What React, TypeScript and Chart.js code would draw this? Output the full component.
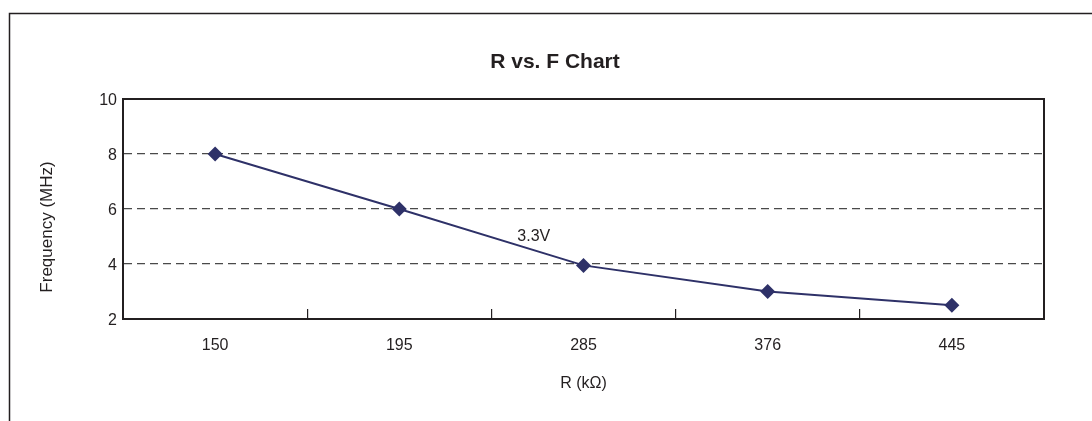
import React, { useEffect, useRef } from "react";
import { Chart, registerables } from "chart.js";

Chart.register(...registerables);

const categories = ["150", "195", "285", "376", "445"];
const frequencyValues = [8.0, 6.0, 3.95, 3.0, 2.5];
const yMin = 2;
const yMax = 10;
const yStep = 2;
const chartTitle = "R vs. F Chart";
const xTitle = "R (kΩ)";
const yTitle = "Frequency (MHz)";
const seriesLabel = "3.3V";
const seriesLabelIndex = 1.73;
const seriesLabelValue = 5.0;

const FONT = "'Liberation Sans', Arial, Helvetica, sans-serif";
const TEXT = "#231F20";
const LINE = "#2E3168";

const decorPlugin = {
  id: "decor",
  beforeDraw(chart: any) {
    const ctx = chart.ctx;
    ctx.save();
    ctx.fillStyle = "#ffffff";
    ctx.fillRect(0, 0, chart.width, chart.height);
    ctx.strokeStyle = TEXT;
    ctx.lineWidth = 1.5;
    ctx.beginPath();
    ctx.moveTo(9.5, chart.height + 2);
    ctx.lineTo(9.5, 13.5);
    ctx.lineTo(chart.width + 2, 13.5);
    ctx.stroke();
    ctx.restore();
  },
  afterDraw(chart: any) {
    const ctx = chart.ctx;
    const a = chart.chartArea;
    ctx.save();
    ctx.strokeStyle = TEXT;
    ctx.lineWidth = 2;
    ctx.strokeRect(a.left, a.top, a.right - a.left, a.bottom - a.top);

    ctx.fillStyle = TEXT;
    ctx.textAlign = "center";
    ctx.textBaseline = "middle";
    ctx.font = `bold 21px ${FONT}`;
    ctx.fillText(chartTitle, 555, 62);

    ctx.font = `17px ${FONT}`;
    ctx.save();
    ctx.translate(47, 227);
    ctx.rotate(-Math.PI / 2);
    ctx.fillText(yTitle, 0, 0);
    ctx.restore();

    const xs = chart.scales.x;
    const ys = chart.scales.y;
    ctx.font = `16px ${FONT}`;
    ctx.fillText(
      seriesLabel,
      xs.getPixelForValue(seriesLabelIndex),
      ys.getPixelForValue(seriesLabelValue)
    );
    ctx.restore();
  },
};

export default function App() {
  const ref = useRef<HTMLCanvasElement | null>(null);

  useEffect(() => {
    if (!ref.current) return;
    const chart = new Chart(ref.current, {
      type: "line",
      data: {
        labels: categories,
        datasets: [
          {
            label: seriesLabel,
            data: frequencyValues,
            borderColor: LINE,
            backgroundColor: LINE,
            borderWidth: 2,
            pointStyle: "rectRot",
            pointRadius: 7.5,
            pointBackgroundColor: LINE,
            pointBorderColor: LINE,
            pointBorderWidth: 0,
            tension: 0,
            fill: false,
          },
        ],
      },
      options: {
        animation: false,
        responsive: false,
        devicePixelRatio: 1,
        layout: { padding: { top: 99, right: 48, left: 0, bottom: 0 } },
        plugins: {
          legend: { display: false },
          tooltip: { enabled: false },
          title: { display: false },
        },
        scales: {
          x: {
            type: "category",
            offset: true,
            afterFit: (s: any) => {
              s.height = 102;
            },
            grid: {
              offset: true,
              drawOnChartArea: false,
              drawTicks: true,
              tickLength: -10,
              color: TEXT,
              lineWidth: 1.2,
            },
            border: { display: true, color: TEXT, width: 2 },
            ticks: {
              color: TEXT,
              font: { family: FONT, size: 16 },
              padding: 27,
              maxRotation: 0,
            },
            title: {
              display: true,
              text: xTitle,
              color: TEXT,
              font: { family: FONT, size: 16 },
              padding: { top: 0, bottom: 28 },
            },
          },
          y: {
            type: "linear",
            min: yMin,
            max: yMax,
            afterFit: (s: any) => {
              s.width = 123;
            },
            ticks: {
              stepSize: yStep,
              color: TEXT,
              font: { family: FONT, size: 16 },
              padding: 6,
              labelOffset: 1.5,
            },
            grid: {
              drawTicks: false,
              color: (c: any) =>
                c.tick && (c.tick.value === yMin || c.tick.value === yMax)
                  ? "rgba(0,0,0,0)"
                  : "#4a4a4a",
              lineWidth: 1.3,
            },
            border: { display: true, color: TEXT, width: 2, dash: [8, 5] },
          },
        },
      },
      plugins: [decorPlugin],
    });
    return () => chart.destroy();
  }, []);

  return (
    <div style={{ position: "absolute", left: 0, top: 0, width: 1092, height: 421 }}>
      <canvas ref={ref} width={1092} height={421} style={{ width: 1092, height: 421, display: "block" }} />
    </div>
  );
}
